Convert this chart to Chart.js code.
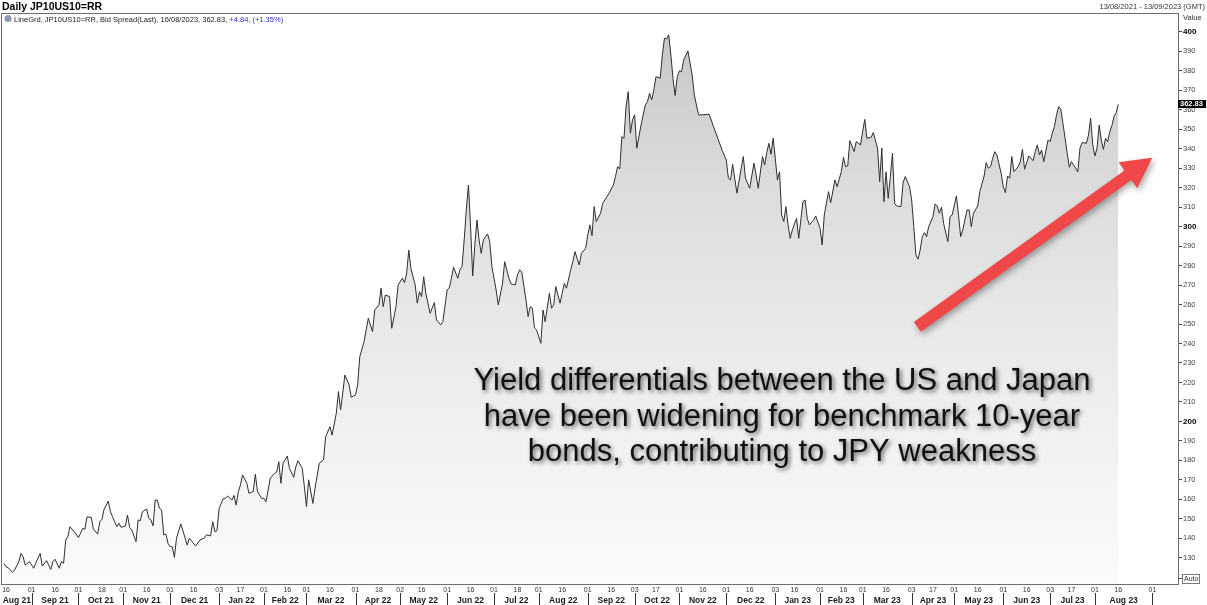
<!DOCTYPE html>
<html>
<head>
<meta charset="utf-8">
<title>Daily JP10US10=RR</title>
<script src="https://cdn.jsdelivr.net/npm/chart.js@4.4.1/dist/chart.umd.min.js"></script>
<style>
  html, body { margin: 0; padding: 0; background: #fff; }
  canvas { display: block; }
</style>
</head>
<body>
<canvas id="grafico" width="1207" height="605"></canvas>
<script>
// trading session number, counted in weekdays from 13/08/2021
var firstDay = '2021-08-13';
var lastDay = '2023-08-16';
var rangeEnd = '2023-09-13';

var sessionNo = [
	0, 1, 2, 4, 5, 7, 8, 9, 10, 12,
	14, 15, 17, 18, 20, 22, 23, 24, 26, 27,
	28, 29, 30, 31, 33, 35, 37, 38, 39, 41,
	42, 44, 45, 46, 47, 49, 50, 51, 53, 54,
	55, 57, 58, 59, 60, 62, 63, 64, 65, 67,
	68, 69, 70, 71, 72, 73, 74, 75, 76, 77,
	78, 79, 80, 81, 83, 84, 86, 87, 90, 92,
	94, 95, 97, 98, 99, 100, 101, 103, 104, 105,
	107, 108, 109, 110, 111, 112, 114, 115, 117, 118,
	119, 121, 122, 123, 125, 127, 128, 129, 130, 131,
	133, 134, 136, 137, 138, 140, 141, 142, 143, 145,
	146, 148, 150, 151, 153, 154, 156, 157, 158, 159,
	160, 162, 163, 165, 166, 167, 169, 170, 171, 173,
	174, 176, 177, 178, 179, 181, 182, 184, 185, 187,
	188, 189, 190, 191, 193, 194, 195, 196, 197, 198,
	200, 202, 203, 205, 206, 208, 209, 210, 211, 213,
	214, 215, 216, 217, 218, 219, 220, 221, 222, 223,
	224, 225, 227, 228, 229, 231, 232, 234, 235, 237,
	238, 240, 241, 242, 243, 245, 246, 247, 248, 249,
	250, 252, 253, 254, 256, 257, 258, 259, 261, 263,
	264, 266, 267, 268, 270, 271, 273, 274, 275, 276,
	277, 278, 280, 281, 283, 284, 286, 287, 288, 289,
	290, 291, 292, 293, 294, 295, 296, 297, 299, 301,
	302, 303, 304, 305, 306, 308, 309, 310, 311, 312,
	313, 314, 315, 316, 317, 318, 319, 321, 323, 324,
	326, 328, 331, 333, 335, 337, 339, 340, 341, 342,
	344, 346, 347, 348, 350, 352, 353, 354, 356, 357,
	358, 359, 360, 361, 362, 363, 364, 365, 366, 367,
	368, 369, 370, 372, 373, 375, 376, 377, 378, 380,
	381, 383, 384, 385, 387, 388, 390, 391, 393, 394,
	395, 396, 397, 399, 400, 402, 403, 404, 405, 407,
	408, 410, 411, 412, 413, 414, 415, 416, 417, 418,
	419, 421, 422, 423, 425, 426, 427, 428, 429, 430,
	431, 432, 433, 434, 436, 437, 438, 439, 440, 441,
	443, 444, 445, 447, 448, 449, 450, 452, 453, 454,
	455, 457, 458, 460, 461, 462, 463, 464, 465, 466,
	468, 469, 470, 471, 472, 473, 474, 476, 477, 478,
	479, 481, 483, 484, 485, 486, 487, 488, 490, 491,
	492, 493, 494, 495, 496, 497, 498, 499, 500, 501,
	502, 504, 505, 506, 508, 509, 510, 511, 512, 513,
	514, 515, 516, 517, 518, 519, 520, 521, 522, 523
];

// bid spread, basis points
var spread = [
	127.1, 125.4, 124.9, 122.5, 123.7, 127.9, 132.2, 130.5, 126.2, 128,
	124.6, 127.4, 132.2, 125.7, 128.5, 124, 128, 129.2, 124.6, 128,
	127.1, 139.1, 140.8, 145.9, 143.4, 140.3, 145.1, 144.6, 151, 150.7,
	144.6, 142.2, 148.5, 149.7, 154.9, 159.1, 153.6, 151, 145.9, 147.7,
	145.6, 146.3, 151.9, 145.6, 144.2, 138.2, 149.4, 149, 153.6, 155,
	150.2, 149.4, 146.3, 159.6, 159.6, 155.4, 154.5, 141.7, 142.2, 137.4,
	135.7, 135.7, 130.2, 140, 147.3, 143.9, 136.5, 140, 136, 139.1,
	140, 141.7, 141.2, 148.5, 143.4, 143.9, 155.4, 160.5, 160.5, 161.7,
	159.6, 162, 157, 163.9, 167.3, 172.5, 168.2, 163.1, 164, 172.8,
	163.9, 160.5, 160.5, 158.7, 170.8, 173.3, 174, 179.3, 168.2, 178.5,
	182.2, 175.9, 171.3, 176.7, 179.8, 175.9, 166.5, 156.2, 170, 157.9,
	165.6, 178.5, 180.2, 192.1, 197.3, 193, 204.2, 215.3, 205.9, 214.4,
	223.8, 218.7, 212.4, 213.6, 218.7, 233.2, 240.9, 246.9, 253, 246.1,
	257.2, 259.8, 268.4, 258.9, 264.9, 264.1, 247.8, 258.9, 270.1, 273.5,
	271.2, 276.1, 288, 278.6, 270.1, 260.7, 266.6, 264.1, 274.3, 265.8,
	255.5, 261, 252.1, 249.5, 251.2, 267.5, 268.4, 273.5, 279.1, 273.5,
	277.8, 279.5, 293.2, 308.6, 321.4, 300, 274.7, 290.6, 303.4, 293.2,
	286.3, 293.2, 296.3, 292.3, 279.5, 267.5, 259.8, 270.9, 282, 273.5,
	270.6, 270.1, 275.2, 277.8, 276.9, 262.4, 253.8, 258.9, 258.1, 248,
	247, 240.1, 257.2, 251.2, 265.8, 258.1, 259.8, 269.2, 260.7, 270.9,
	268.4, 277.8, 282, 287.2, 280.3, 286.3, 288.9, 295.7, 300.9, 295.4,
	310.3, 302.6, 306.9, 312, 315.4, 317.2, 321.4, 325.7, 330.8, 329.6,
	346.2, 345.4, 362, 369.3, 348, 354.8, 357.4, 340.3, 352.2, 362.5,
	364.2, 368.5, 365.1, 370.2, 377, 376.2, 388.2, 396.8, 396.4, 398.5,
	388.2, 376.2, 367.3, 377, 380, 379.6, 385.6, 390.2, 377.9, 367.6,
	357.4, 357.4, 357.7, 351.4, 345.4, 339.4, 334.2, 324.9, 324, 332,
	317.2, 330, 336, 324.9, 319.7, 332.6, 326.6, 319.7, 336, 331.7,
	338, 342.8, 337.2, 345.4, 335.1, 324, 328.2, 306, 302.6, 310.3,
	300.9, 294, 298.3, 304.3, 294, 312.8, 313.7, 304.3, 300.9, 303.4,
	305.5, 299.2, 290.6, 306, 318, 312.3, 324, 320.5, 328.2, 335.6,
	330.8, 331.2, 344.2, 338.6, 343.7, 342, 348.8, 355.1, 345.4, 345.9,
	348.3, 340.3, 323.1, 340.3, 312.8, 328.2, 314.6, 325.7, 337.7, 312,
	310.6, 310.3, 322.6, 325.7, 320.5, 313.7, 300, 285.5, 283.3, 288,
	294.9, 296.9, 294.9, 300, 305.1, 311.7, 310.6, 306.9, 310, 301.7,
	292.3, 305.1, 306, 315.8, 306, 294.9, 298.3, 308.6, 308.6, 300,
	306.9, 310.6, 318, 326, 332.9, 330, 330.8, 335, 338.5, 336.8,
	327.4, 320.5, 317.5, 326, 324.9, 336, 328.2, 330.8, 333.4, 339.7,
	329.5, 336.3, 333.9, 338.5, 342, 336.8, 339.4, 333.4, 344.5, 343.7,
	348, 351.4, 357.4, 361.6, 360.3, 353.1, 345.4, 337.7, 330.5, 333.4,
	331.7, 328.2, 340.3, 343.2, 342.8, 347.1, 355.7, 342, 336.3, 340.3,
	352.2, 344.5, 339.7, 345.4, 343.7, 348.8, 352, 356.6, 358.6, 362.83
];

var dayTicks = [
	'2021-08-16', '2021-09-01', '2021-09-16', '2021-10-01', '2021-10-18', '2021-11-01', '2021-11-16',
	'2021-12-01', '2021-12-16', '2022-01-03', '2022-01-17', '2022-02-01', '2022-02-16', '2022-03-01',
	'2022-03-16', '2022-04-01', '2022-04-18', '2022-05-02', '2022-05-16', '2022-06-01', '2022-06-16',
	'2022-07-01', '2022-07-18', '2022-08-01', '2022-08-16', '2022-09-01', '2022-09-16', '2022-10-03',
	'2022-10-17', '2022-11-01', '2022-11-16', '2022-12-01', '2022-12-16', '2023-01-03', '2023-01-16',
	'2023-02-01', '2023-02-16', '2023-03-01', '2023-03-16', '2023-04-03', '2023-04-17', '2023-05-01',
	'2023-05-16', '2023-06-01', '2023-06-16', '2023-07-03', '2023-07-17', '2023-08-01', '2023-08-16',
	'2023-09-01'
];

var monthLabels = [
	'Aug 21', 'Sep 21', 'Oct 21', 'Nov 21', 'Dec 21', 'Jan 22', 'Feb 22', 'Mar 22', 'Apr 22',
	'May 22', 'Jun 22', 'Jul 22', 'Aug 22', 'Sep 22', 'Oct 22', 'Nov 22', 'Dec 22', 'Jan 23',
	'Feb 23', 'Mar 23', 'Apr 23', 'May 23', 'Jun 23', 'Jul 23', 'Aug 23'
];
// first trading day after each month label (end of its span)
var monthBreaks = [
	'2021-09-01', '2021-10-01', '2021-11-01', '2021-12-01', '2022-01-03', '2022-02-01', '2022-03-01',
	'2022-04-01', '2022-05-02', '2022-06-01', '2022-07-01', '2022-08-01', '2022-09-01', '2022-10-03',
	'2022-11-01', '2022-12-01', '2023-01-03', '2023-02-01', '2023-03-01', '2023-04-03', '2023-05-01',
	'2023-06-01', '2023-07-03', '2023-08-01', '2023-09-01'
];

var valueTicks = [130, 140, 150, 160, 170, 180, 190, 200, 210, 220, 230, 240, 250, 260, 270,
	280, 290, 300, 310, 320, 330, 340, 350, 360, 370, 380, 390, 400];

var valueMin = 116.5;
var valueMax = 409.2;

var legendText = 'LineGrd, JP10US10=RR, Bid Spread(Last), 16/08/2023, 362.83, ';
var legendChange = '+4.84, (+1.35%)';
var noteLines = [
	'Yield differentials between the US and Japan',
	'have been widening for benchmark 10-year',
	'bonds, contributing to JPY weakness'
];
// arrow annotation in data units [session, value]
var arrowTail = [428.7, 248.5];
var arrowTip = [538.9, 335.4];

var FONT = '"Liberation Sans", Arial, sans-serif';
var DAY = 86400000;

function parseDia(s){
	var p = s.split('-');
	return Date.UTC(+p[0], +p[1] - 1, +p[2]);
}

function weekdaysBetween(t0, t1){
	var n = 0, t = t0;
	while (t < t1) {
		t += DAY;
		var d = new Date(t).getUTCDay();
		if (d !== 0 && d !== 6) n++;
	}
	return n;
}

var t0 = parseDia(firstDay);
var tLast = parseDia(lastDay);
var lastSession = weekdaysBetween(t0, tLast);

// weekdays up to the last quote, calendar days after it (as the original axis does)
function dateToSession(s){
	var t = parseDia(s);
	if (t <= tLast) return weekdaysBetween(t0, t);
	return lastSession + Math.round((t - tLast) / DAY);
}

var pontos = sessionNo.map(function(s, i){ return { x: s, y: spread[i] }; });

var decoracao = {
	id: 'decoracao',
	afterDraw: function(chart){
		var ctx = chart.ctx, a = chart.chartArea;
		var xs = chart.scales.x, ys = chart.scales.y;
		ctx.save();

		// frame
		ctx.strokeStyle = '#6e6e6e';
		ctx.lineWidth = 1;
		ctx.strokeRect(a.left - 0.5, a.top - 0.5, a.right - a.left + 1, a.bottom - a.top + 1);

		// header
		ctx.fillStyle = '#000';
		ctx.font = 'bold 10.5px ' + FONT;
		ctx.textBaseline = 'alphabetic';
		ctx.textAlign = 'left';
		ctx.fillText('Daily JP10US10=RR', 2, 10);
		ctx.font = '7.5px ' + FONT;
		ctx.fillStyle = '#333';
		ctx.textAlign = 'right';
		ctx.fillText('13/08/2021 - 13/09/2023 (GMT)', 1205, 9);

		// legend line
		ctx.textAlign = 'left';
		ctx.fillStyle = '#8a9bb0';
		ctx.beginPath();
		ctx.arc(8, 18.5, 3.5, 0, Math.PI * 2);
		ctx.fill();
		ctx.font = '7.5px ' + FONT;
		ctx.fillStyle = '#222';
		ctx.fillText(legendText, 14, 22);
		var w = ctx.measureText(legendText).width;
		ctx.fillStyle = '#2b2bd6';
		ctx.fillText(legendChange, 14 + w, 22);

		// right axis extras
		ctx.fillStyle = '#333';
		ctx.fillText('Value', 1183, 20);
		var yLast = ys.getPixelForValue(spread[spread.length - 1]);
		ctx.fillStyle = '#000';
		ctx.fillRect(a.right, Math.round(yLast) - 4, 28, 8);
		ctx.fillStyle = '#fff';
		ctx.font = 'bold 7.5px ' + FONT;
		ctx.textBaseline = 'middle';
		ctx.fillText(spread[spread.length - 1].toFixed(2), a.right + 2, Math.round(yLast));
		ctx.strokeStyle = '#555';
		ctx.beginPath();
		ctx.moveTo(a.right, 578.5); ctx.lineTo(a.right + 4, 578.5);
		ctx.stroke();
		ctx.strokeStyle = '#777';
		ctx.strokeRect(1182.5, 574.5, 17, 9);
		ctx.fillStyle = '#333';
		ctx.font = '7px ' + FONT;
		ctx.fillText('Auto', 1184, 579.5);

		// month row
		ctx.textBaseline = 'alphabetic';
		ctx.textAlign = 'center';
		ctx.font = 'bold 8.5px ' + FONT;
		ctx.strokeStyle = '#333';
		var prev = a.left;
		monthLabels.forEach(function(lbl, i){
			var xb = xs.getPixelForValue(dateToSession(monthBreaks[i]));
			ctx.fillStyle = '#1a1a1a';
			ctx.fillText(lbl, (prev + xb) / 2, 603);
			ctx.beginPath();
			ctx.moveTo(Math.round(xb) + 0.5, 593);
			ctx.lineTo(Math.round(xb) + 0.5, 605);
			ctx.stroke();
			prev = xb;
		});

		// arrow
		var x1 = xs.getPixelForValue(arrowTail[0]), y1 = ys.getPixelForValue(arrowTail[1]);
		var x2 = xs.getPixelForValue(arrowTip[0]), y2 = ys.getPixelForValue(arrowTip[1]);
		var ang = Math.atan2(y2 - y1, x2 - x1);
		var c = Math.cos(ang), s = Math.sin(ang);
		var px = -s, py = c;
		var headLen = 30, headHalf = 16, half = 6;
		var bx = x2 - headLen * c, by = y2 - headLen * s;
		ctx.shadowColor = 'rgba(0,0,0,0.35)';
		ctx.shadowBlur = 6;
		ctx.shadowOffsetX = 2;
		ctx.shadowOffsetY = 3;
		ctx.fillStyle = '#f04848';
		ctx.beginPath();
		ctx.moveTo(x1 + px * half, y1 + py * half);
		ctx.lineTo(bx + px * half, by + py * half);
		ctx.lineTo(bx + px * headHalf, by + py * headHalf);
		ctx.lineTo(x2, y2);
		ctx.lineTo(bx - px * headHalf, by - py * headHalf);
		ctx.lineTo(bx - px * half, by - py * half);
		ctx.lineTo(x1 - px * half, y1 - py * half);
		ctx.closePath();
		ctx.fill();

		// note text
		ctx.shadowColor = 'rgba(0,0,0,0.6)';
		ctx.shadowBlur = 4;
		ctx.shadowOffsetX = 2;
		ctx.shadowOffsetY = 2;
		ctx.fillStyle = '#111';
		ctx.font = '31px ' + FONT;
		ctx.textAlign = 'center';
		var baseY = [390, 425.5, 461];
		noteLines.forEach(function(linha, i){
			ctx.fillText(linha, 782, baseY[i]);
		});

		ctx.restore();
	}
};

var grafico = new Chart(document.getElementById('grafico').getContext('2d'), {
	type: 'line',
	data: {
		datasets: [{
			label: 'JP10US10=RR',
			data: pontos,
			borderColor: '#2e2e2e',
			borderWidth: 1,
			pointRadius: 0,
			tension: 0,
			fill: 'start',
			backgroundColor: function(context){
				var area = context.chart.chartArea;
				if (!area) return 'rgba(0,0,0,0)';
				var g = context.chart.ctx.createLinearGradient(0, area.top, 0, area.bottom);
				g.addColorStop(0, '#c4c4c4');
				g.addColorStop(0.3, '#dcdcdc');
				g.addColorStop(0.6, '#ebebeb');
				g.addColorStop(1, '#fbfbfb');
				return g;
			}
		}]
	},
	options: {
		responsive: false,
		animation: false,
		events: [],
		layout: { padding: { left: 2, top: 14, right: 0, bottom: 0 } },
		plugins: { legend: { display: false }, tooltip: { enabled: false } },
		scales: {
			x: {
				type: 'linear',
				min: -0.9,
				max: dateToSession(rangeEnd),
				afterBuildTicks: function(ax){
					ax.ticks = dayTicks.map(function(d){ return { value: dateToSession(d) }; });
				},
				afterFit: function(ax){
					ax.height = 21;
					ax.paddingLeft = 0;
					ax.paddingRight = 0;
				},
				grid: { display: false, drawTicks: false },
				border: { display: false },
				ticks: {
					autoSkip: false,
					maxRotation: 0,
					padding: 2,
					color: '#333',
					font: { family: FONT, size: 7 },
					callback: function(v, i){ return dayTicks[i].slice(8); }
				}
			},
			y: {
				position: 'right',
				min: valueMin,
				max: valueMax,
				afterBuildTicks: function(ax){
					ax.ticks = valueTicks.map(function(v){ return { value: v }; });
				},
				afterFit: function(ax){
					ax.width = 29;
					ax.paddingTop = 0;
					ax.paddingBottom = 0;
				},
				grid: { drawOnChartArea: false, drawTicks: true, tickLength: 4, color: '#444' },
				border: { display: true, color: '#444' },
				ticks: {
					padding: 1,
					color: function(c){ return c.tick && c.tick.value % 100 === 0 ? '#000' : '#444'; },
					font: function(c){
						var forte = c.tick && c.tick.value % 100 === 0;
						return { family: FONT, size: forte ? 8 : 7.5, weight: forte ? 'bold' : 'normal' };
					},
					callback: function(v){ return String(v); }
				}
			}
		}
	},
	plugins: [decoracao]
});
</script>
</body>
</html>
